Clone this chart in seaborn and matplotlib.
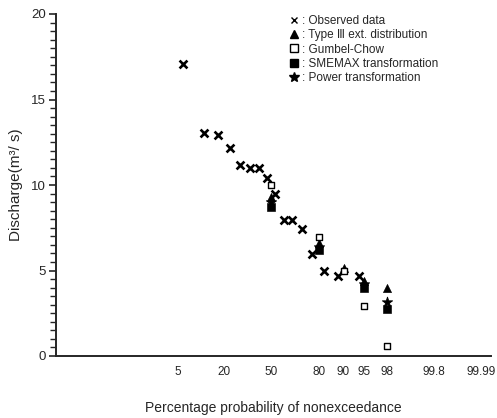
import numpy as np
import pandas as pd
import matplotlib
matplotlib.use("Agg")
import matplotlib.pyplot as plt
from matplotlib.ticker import MultipleLocator, FixedLocator, FixedFormatter
from matplotlib.lines import Line2D
import seaborn as sns
from statistics import NormalDist

# ---- data ----
obs_p = [5.9, 11.8, 17.6, 23.5, 29.4, 35.3, 41.2, 47.1, 52.9, 58.8, 64.7, 70.6, 76.5, 82.4, 88.2, 94.1]
obs_q = [17.1, 13.05, 12.9, 12.15, 11.15, 11.0, 11.0, 10.4, 9.45, 7.95, 7.95, 7.4, 5.95, 4.95, 4.65, 4.65]

t3_p = [50, 80, 90, 95, 98]
t3_q = [9.3, 6.6, 5.15, 4.4, 3.95]

gc_p = [50, 80, 90, 95, 98]
gc_q = [10.0, 6.95, 4.95, 2.9, 0.6]

sm_p = [50, 80, 95, 98]
sm_q = [8.7, 6.2, 4.0, 2.75]

pw_p = [50, 80, 95, 98]
pw_q = [9.0, 6.4, 4.2, 3.15]

xticks = [5, 20, 50, 80, 90, 95, 98, 99.8, 99.99]
xticklabels = ["5", "20", "50", "80", "90", "95", "98", "99.8", "99.99"]

legend_labels = [": Observed data", ": Type Ⅲ ext. distribution", ": Gumbel-Chow",
                 ": SMEMAX transformation", ": Power transformation"]

# ---- style ----
sns.set_style("ticks")
plt.rcParams['font.family'] = ['Liberation Sans', 'DejaVu Sans']

fig = plt.figure(figsize=(4.97, 4.18), dpi=100)
ax = fig.add_axes([56/497, 1 - 356/418, (491-56)/497, (356-14)/418])

_nd = NormalDist()
def fwd(p):
    p = np.clip(np.asarray(p, dtype=float), 1e-7, 100 - 1e-7)
    return np.vectorize(lambda v: _nd.inv_cdf(v / 100.0))(p) if p.size else p
def inv(z):
    z = np.asarray(z, dtype=float)
    return np.vectorize(lambda v: _nd.cdf(v) * 100.0)(z) if z.size else z

ax.set_xscale('function', functions=(fwd, inv))

series = [
    (obs_p, obs_q, dict(marker="x", color="black", s=32, linewidth=1.9)),
    (t3_p, t3_q, dict(marker="^", color="black", edgecolor="black", s=34)),
    (gc_p, gc_q, dict(marker="s", color="white", edgecolor="black", linewidth=1.0, s=22)),
    (sm_p, sm_q, dict(marker="s", color="black", edgecolor="black", s=30)),
    (pw_p, pw_q, dict(marker="*", color="black", edgecolor="black", s=60)),
]
for p, q, kw in series:
    df = pd.DataFrame({"p": p, "q": q})
    sns.scatterplot(data=df, x="p", y="q", ax=ax, zorder=3, legend=False, **kw)

ax.set_xlim(0.00709, 99.995)
ax.set_ylim(0, 20)

ax.xaxis.set_major_locator(FixedLocator(xticks))
ax.xaxis.set_major_formatter(FixedFormatter(xticklabels))
ax.xaxis.set_minor_locator(FixedLocator([]))
ax.tick_params(axis='x', length=0, pad=7, labelsize=8.5)

ax.yaxis.set_major_locator(MultipleLocator(5))
ax.yaxis.set_minor_locator(MultipleLocator(0.5))
ax.tick_params(axis='y', which='major', length=5, width=1.2, pad=2, labelsize=9.5)
ax.tick_params(axis='y', which='minor', length=4, width=1.0)

for s in ["top", "right"]:
    ax.spines[s].set_visible(False)
ax.spines["left"].set_linewidth(1.4)
ax.spines["bottom"].set_linewidth(1.4)

ax.set_xlabel("Percentage probability of nonexceedance", fontsize=10, labelpad=17)
ax.set_ylabel("Discharge(m³/ s)", fontsize=11, labelpad=6)

handles = [
    Line2D([], [], ls="none", marker="x", color="black", markersize=5, markeredgewidth=1.0),
    Line2D([], [], ls="none", marker="^", color="black", markersize=6),
    Line2D([], [], ls="none", marker="s", markerfacecolor="white", markeredgecolor="black", markersize=6),
    Line2D([], [], ls="none", marker="s", color="black", markersize=6),
    Line2D([], [], ls="none", marker="*", color="black", markersize=7),
]
leg = ax.legend(handles, legend_labels, loc="upper left", bbox_to_anchor=(283/497, 1 - 9/418),
                bbox_transform=fig.transFigure, frameon=False, fontsize=8.5,
                handlelength=0.8, handletextpad=0.3, labelspacing=0.2, borderpad=0)

fig.savefig("out.png", dpi=100)
